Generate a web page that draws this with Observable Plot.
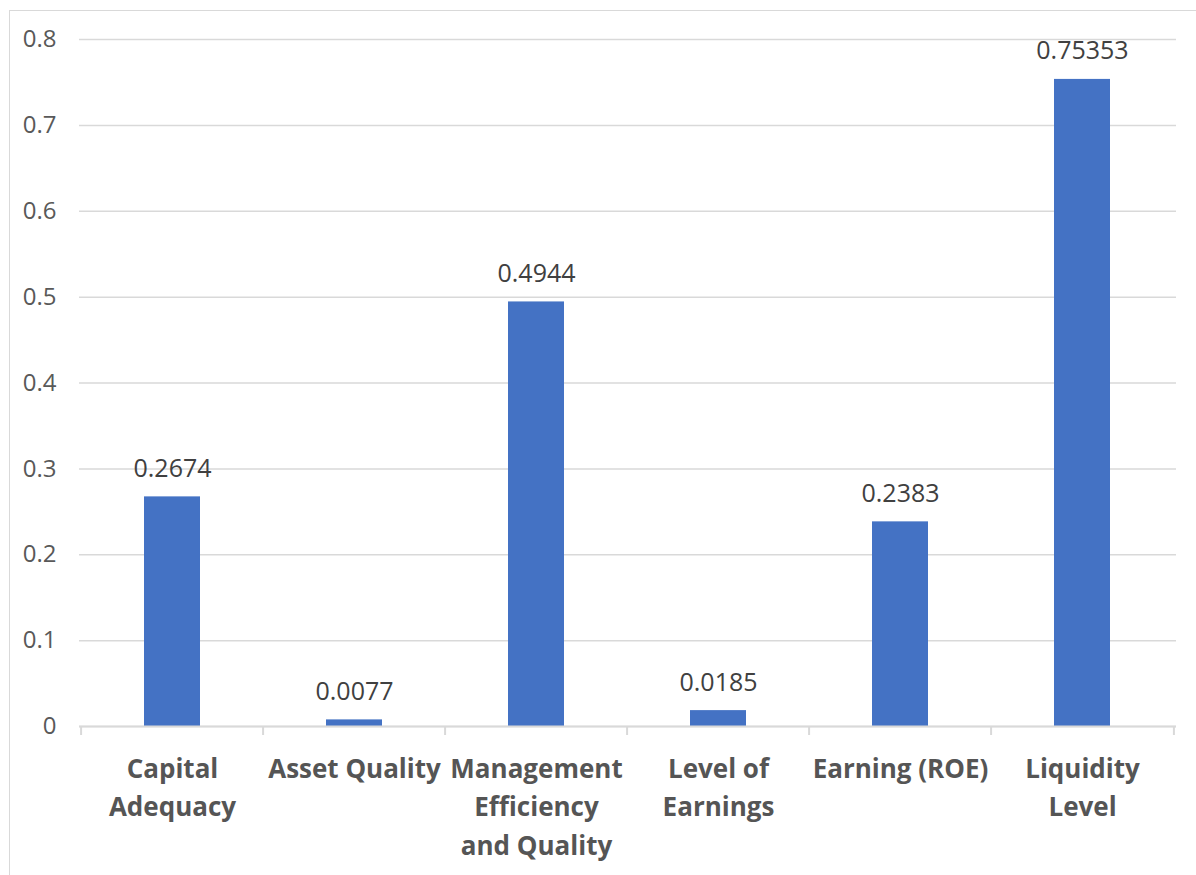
<!DOCTYPE html>
<html>
<head>
<meta charset="utf-8">
<script src="https://cdn.jsdelivr.net/npm/d3@7"></script>
<script src="https://cdn.jsdelivr.net/npm/@observablehq/plot@0.6"></script>
<style>
  html, body { margin: 0; padding: 0; background: #fff; }
  #wrap { position: relative; width: 1196px; height: 875px; overflow: hidden; }
  #frame { position: absolute; left: 9px; top: 10px; width: 1300px; height: 1000px;
           border-left: 1.5px solid #d9d9d9; border-top: 1.5px solid #d9d9d9; pointer-events: none; }
</style>
</head>
<body>
<div id="wrap"><div id="frame"></div></div>
<script>
const categories = ["Capital Adequacy", "Asset Quality", "Management Efficiency and Quality", "Level of Earnings", "Earning (ROE)", "Liquidity Level"];
const values = [0.2674, 0.0077, 0.4944, 0.0185, 0.2383, 0.75353];
const valueLabels = ["0.2674", "0.0077", "0.4944", "0.0185", "0.2383", "0.75353"];
const tickLabels = ["Capital\nAdequacy", "Asset Quality", "Management\nEfficiency\nand Quality", "Level of\nEarnings", "Earning (ROE)", "Liquidity\nLevel"];
const yTicks = [0, 0.1, 0.2, 0.3, 0.4, 0.5, 0.6, 0.7, 0.8];

const data = categories.map((c, i) => ({category: c, value: values[i], label: valueLabels[i]}));

const W = 1196, H = 875, ML = 79, MR = 20, MT = 39, MB = 149;
const step = (W - ML - MR) / categories.length;
const font = "Open Sans, Lato, sans-serif";

const chart = Plot.plot({
  width: W,
  height: H,
  marginLeft: ML,
  marginRight: MR,
  marginTop: MT,
  marginBottom: MB,
  style: {fontFamily: font, background: "transparent", overflow: "visible"},
  x: {domain: categories, paddingInner: 0.69, paddingOuter: 0.345, label: null},
  y: {domain: [0, 0.8], label: null},
  marks: [
    Plot.gridY(yTicks, {stroke: "#d9d9d9", strokeOpacity: 1, strokeWidth: 1.5}),
    Plot.axisY(yTicks, {tickSize: 0, tickPadding: 23, fontSize: 24, fill: "#595959",
      tickFormat: d => d === 0 ? "0" : d3.format(".1f")(d)}),
    Plot.barY(data, {x: "category", y: "value", fill: "#4472c4"}),
    Plot.ruleY([0], {stroke: "#d9d9d9", strokeWidth: 2}),
    Plot.ruleX(categories, {x: d => d, y1: 0, y2: 0, insetBottom: -9, dx: -step / 2, stroke: "#d9d9d9", strokeWidth: 2}),
    Plot.ruleX([categories[categories.length - 1]], {x: d => d, y1: 0, y2: 0, insetBottom: -9, dx: step / 2, stroke: "#d9d9d9", strokeWidth: 2}),
    Plot.text(data, {x: "category", y: "value", text: "label", dy: -28, fontSize: 25, fill: "#404040", lineAnchor: "middle"}),
    Plot.axisX({tickSize: 0, tickPadding: 24, fontSize: 26, fontWeight: "bold", fill: "#555555", lineHeight: 1.48,
      tickFormat: d => tickLabels[categories.indexOf(d)], label: null})
  ]
});
document.getElementById("wrap").prepend(chart);
</script>
</body>
</html>
